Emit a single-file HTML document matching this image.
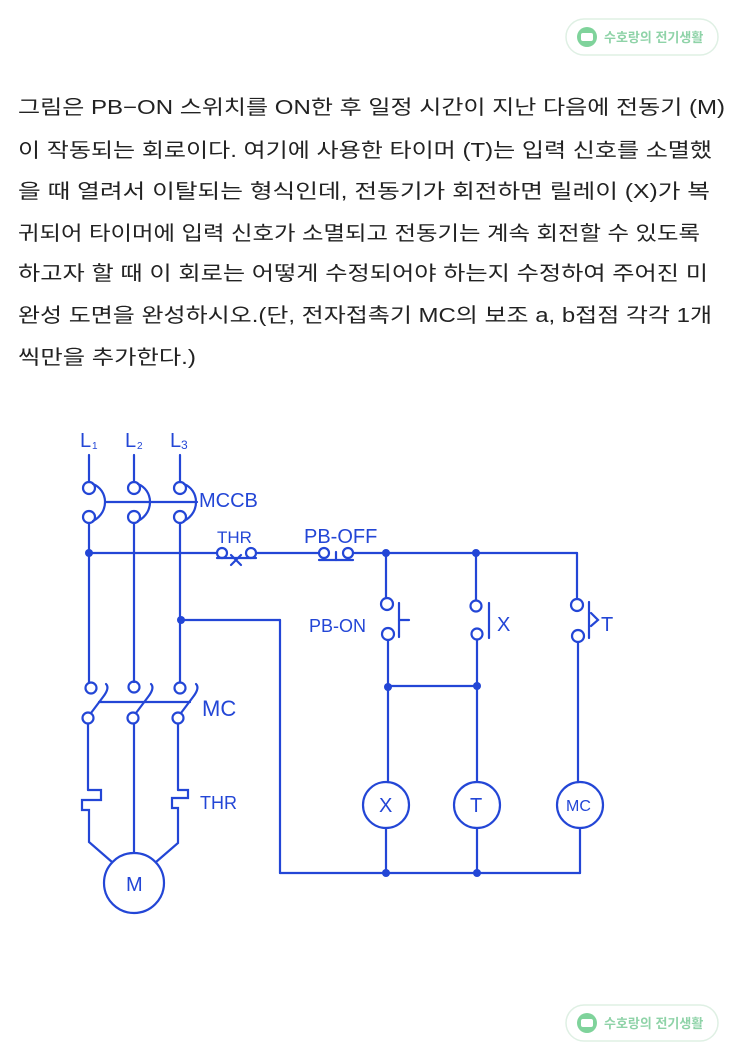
<!DOCTYPE html>
<html><head><meta charset="utf-8"><style>
html,body{margin:0;padding:0;background:#fff;}
svg{display:block;}
</style></head><body>
<svg width="743" height="1050" viewBox="0 0 743 1050" xmlns="http://www.w3.org/2000/svg">
<rect width="743" height="1050" fill="#fff"/>
<g font-family="'Liberation Sans','Noto Sans CJK KR',sans-serif" font-size="13" font-weight="bold" fill="#8fd3a8">
<rect x="566" y="19" width="152" height="36" rx="18" fill="#fff" stroke="#dff0e4" stroke-width="1.5"/>
<circle cx="587" cy="37" r="10" fill="#7fd39b"/><rect x="581" y="33" width="12" height="8" rx="2" fill="#fff"/>
<text x="604" y="42">수호랑의 전기생활</text>
<rect x="566" y="1005" width="152" height="36" rx="18" fill="#fff" stroke="#dff0e4" stroke-width="1.5"/>
<circle cx="587" cy="1023" r="10" fill="#7fd39b"/><rect x="581" y="1019" width="12" height="8" rx="2" fill="#fff"/>
<text x="604" y="1028">수호랑의 전기생활</text>
</g>
<g font-family="'Liberation Sans','Noto Sans CJK KR',sans-serif" font-size="20" fill="#222">
<text x="18" y="114" textLength="707" lengthAdjust="spacingAndGlyphs">그림은 PB−ON 스위치를 ON한 후 일정 시간이 지난 다음에 전동기 (M)</text>
<text x="18" y="157" textLength="694" lengthAdjust="spacingAndGlyphs">이 작동되는 회로이다. 여기에 사용한 타이머 (T)는 입력 신호를 소멸했</text>
<text x="18" y="198" textLength="692" lengthAdjust="spacingAndGlyphs">을 때 열려서 이탈되는 형식인데, 전동기가 회전하면 릴레이 (X)가 복</text>
<text x="18" y="240" textLength="682" lengthAdjust="spacingAndGlyphs">귀되어 타이머에 입력 신호가 소멸되고 전동기는 계속 회전할 수 있도록</text>
<text x="18" y="280" textLength="690" lengthAdjust="spacingAndGlyphs">하고자 할 때 이 회로는 어떻게 수정되어야 하는지 수정하여 주어진 미</text>
<text x="18" y="322" textLength="694" lengthAdjust="spacingAndGlyphs">완성 도면을 완성하시오.(단, 전자접촉기 MC의 보조 a, b접점 각각 1개</text>
<text x="18" y="364" textLength="178" lengthAdjust="spacingAndGlyphs">씩만을 추가한다.)</text>
</g>
<g stroke="#2346d6" stroke-width="2.2" fill="none" stroke-linecap="round">
<line x1="89" y1="455" x2="89" y2="482"/><line x1="134" y1="455" x2="134" y2="482"/><line x1="180" y1="455" x2="180" y2="482"/>
<circle cx="89" cy="488" r="6"/><circle cx="134" cy="488" r="6"/><circle cx="180" cy="488" r="6"/>
<circle cx="89" cy="517" r="6"/><circle cx="134" cy="517" r="6"/><circle cx="180" cy="517" r="6"/>
<path d="M93,484 C108,490 110,512 93,521"/><path d="M138,484 C153,490 155,512 138,521"/><path d="M184,484 C199,490 201,512 184,521"/>
<line x1="105" y1="502" x2="197" y2="502"/>
<line x1="89" y1="523" x2="89" y2="682"/><line x1="134" y1="523" x2="134" y2="682"/><line x1="180" y1="523" x2="180" y2="682"/>
<line x1="89" y1="553" x2="216" y2="553"/>
<circle cx="222" cy="553" r="5"/><circle cx="251" cy="553" r="5"/>
<line x1="217" y1="558" x2="256" y2="558"/><path d="M231,555 L241,565 M241,555 L231,565"/>
<line x1="256" y1="553" x2="318" y2="553"/>
<circle cx="324" cy="553" r="5"/><circle cx="348" cy="553" r="5"/>
<line x1="319" y1="560" x2="353" y2="560"/><line x1="336" y1="552" x2="336" y2="560"/>
<line x1="353" y1="553" x2="577" y2="553"/><line x1="577" y1="553" x2="577" y2="598"/>
<line x1="180" y1="620" x2="280" y2="620"/><line x1="280" y1="620" x2="280" y2="873"/>
<line x1="280" y1="873" x2="580" y2="873"/>
<line x1="386" y1="553" x2="386" y2="598"/><circle cx="387" cy="604" r="6"/><circle cx="388" cy="634" r="6"/>
<line x1="399" y1="603" x2="399" y2="637"/><line x1="399" y1="620" x2="409" y2="620"/>
<line x1="388" y1="640" x2="388" y2="782"/>
<line x1="476" y1="553" x2="476" y2="600"/><circle cx="476" cy="606" r="5.5"/><circle cx="477" cy="634" r="5.5"/>
<line x1="489" y1="603" x2="489" y2="638"/>
<line x1="477" y1="640" x2="477" y2="782"/>
<line x1="388" y1="686" x2="477" y2="686"/>
<circle cx="577" cy="605" r="6"/><circle cx="578" cy="636" r="6"/>
<line x1="589" y1="602" x2="589" y2="638"/><path d="M591,613 L598,620 L591,626"/>
<line x1="578" y1="642" x2="578" y2="782"/>
<circle cx="386" cy="805" r="23"/><circle cx="477" cy="805" r="23"/><circle cx="580" cy="805" r="23"/>
<line x1="386" y1="828" x2="386" y2="873"/><line x1="477" y1="828" x2="477" y2="873"/><line x1="580" y1="828" x2="580" y2="873"/>
<circle cx="91" cy="688" r="5.5"/><circle cx="134" cy="687" r="5.5"/><circle cx="180" cy="688" r="5.5"/>
<circle cx="88" cy="718" r="5.5"/><circle cx="133" cy="718" r="5.5"/><circle cx="178" cy="718" r="5.5"/>
<path d="M91,713 L103,697 Q110,688 106,684"/><path d="M136,713 L148,697 Q155,688 151,684"/><path d="M181,713 L193,697 Q200,688 196,684"/>
<line x1="99" y1="702" x2="190" y2="702"/>
<line x1="88" y1="724" x2="88" y2="790"/><line x1="134" y1="724" x2="134" y2="852"/><line x1="178" y1="724" x2="178" y2="790"/>
<path d="M88,790 L101,790 L101,800 L82,800 L82,810 L89,810 L89,842 L112,862"/>
<path d="M178,790 L188,790 L188,798 L172,798 L172,808 L178,808 L178,843 L156,862"/>
<circle cx="134" cy="883" r="30"/>
</g>
<g fill="#2346d6">
<circle cx="89" cy="553" r="4"/><circle cx="386" cy="553" r="4"/><circle cx="476" cy="553" r="4"/>
<circle cx="181" cy="620" r="4"/><circle cx="388" cy="687" r="4"/><circle cx="477" cy="686" r="4"/>
<circle cx="386" cy="873" r="4"/><circle cx="477" cy="873" r="4"/>
</g>
<g font-family="'Liberation Sans',sans-serif" font-size="20" fill="#2346d6">
<text x="80" y="447">L</text><text x="92" y="449" font-size="10">1</text>
<text x="125" y="447">L</text><text x="137" y="449" font-size="10">2</text>
<text x="170" y="447">L</text><text x="181" y="449" font-size="12">3</text>
<text x="199" y="507">MCCB</text>
<text x="217" y="543" font-size="17">THR</text>
<text x="304" y="543">PB-OFF</text>
<text x="309" y="632" font-size="18">PB-ON</text>
<text x="497" y="631">X</text>
<text x="601" y="631">T</text>
<text x="202" y="716" font-size="22">MC</text>
<text x="200" y="809" font-size="18">THR</text>
<text x="379" y="812">X</text><text x="470" y="812">T</text>
<text x="566" y="811" font-size="16">MC</text>
<text x="126" y="891">M</text>
</g>
</svg>
</body></html>
